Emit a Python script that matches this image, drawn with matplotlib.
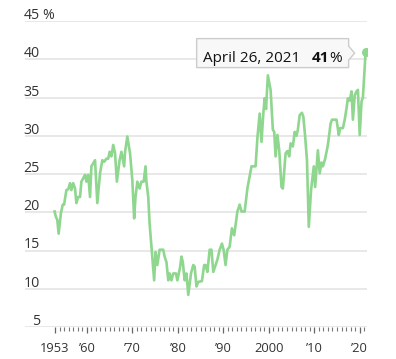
import matplotlib
matplotlib.use("Agg")
import matplotlib.pyplot as plt
from matplotlib import transforms
from matplotlib.patches import Polygon

plt.rcParams['font.family'] = ['Open Sans', 'DejaVu Sans']

years = [1952.9, 1953.2, 1953.5, 1953.8, 1954.3, 1954.7, 1955.0, 1955.5, 1955.9, 1956.3,
         1956.6, 1957.0, 1957.4, 1957.7, 1958.1, 1958.5, 1958.8, 1959.6, 1959.9, 1960.3,
         1960.7, 1961.0, 1961.8, 1962.3, 1962.9, 1963.4, 1963.8, 1964.3, 1964.7, 1965.0,
         1965.4, 1965.8, 1966.2, 1966.6, 1967.2, 1967.6, 1968.2, 1968.4, 1968.9, 1969.5,
         1970.0, 1970.4, 1970.7, 1971.1, 1971.6, 1972.0, 1972.5, 1972.9, 1973.1, 1973.5,
         1973.8, 1974.2, 1974.8, 1975.1, 1975.5, 1976.0, 1976.8, 1977.1, 1977.5, 1977.9,
         1978.2, 1978.6, 1979.0, 1979.6, 1979.9, 1980.5, 1980.8, 1981.1, 1981.5, 1981.9,
         1982.3, 1982.9, 1983.4, 1983.7, 1984.1, 1984.5, 1985.3, 1985.8, 1986.1, 1986.5,
         1987.0, 1987.4, 1987.8, 1988.3, 1988.7, 1989.2, 1989.7, 1990.1, 1990.5, 1990.9,
         1991.4, 1991.9, 1992.4, 1993.1, 1993.6, 1994.0, 1994.7, 1995.3, 1996.2, 1997.1,
         1997.5, 1998.0, 1998.4, 1998.8, 1999.1, 1999.4, 1999.8, 2000.4, 2000.9, 2001.2,
         2001.5, 2001.9, 2002.3, 2002.8, 2003.1, 2003.7, 2004.1, 2004.5, 2004.8, 2005.3,
         2005.7, 2006.1, 2006.4, 2006.8, 2007.3, 2007.6, 2008.0, 2008.4, 2008.8, 2009.3,
         2009.9, 2010.2, 2010.8, 2011.2, 2011.6, 2011.9, 2012.4, 2013.0, 2013.6, 2013.9,
         2014.9, 2015.4, 2015.7, 2016.3, 2016.7, 2017.1, 2017.4, 2017.8, 2018.2, 2018.5,
         2018.9, 2019.3, 2019.6, 2020.0, 2020.4, 2020.7, 2021.3]
values = [20.1, 19.4, 19.0, 17.2, 19.9, 21.0, 21.0, 22.9, 23.0, 23.8,
          22.9, 23.8, 23.1, 21.2, 22.0, 22.0, 24.0, 24.9, 24.0, 24.9,
          22.0, 26.0, 26.8, 21.2, 25.1, 26.8, 26.6, 27.0, 27.0, 27.9,
          27.3, 28.8, 27.7, 24.0, 26.8, 27.9, 26.0, 27.9, 29.9, 27.7,
          24.2, 19.2, 22.0, 24.0, 23.1, 24.0, 24.0, 26.0, 24.0, 22.0,
          18.5, 15.5, 11.1, 14.8, 13.1, 15.1, 15.1, 14.2, 13.5, 11.1,
          12.0, 11.1, 12.0, 12.0, 11.1, 12.8, 14.2, 13.5, 11.1, 12.0,
          9.2, 12.0, 13.1, 12.9, 10.3, 10.9, 11.0, 13.1, 13.1, 12.2,
          15.1, 15.1, 12.2, 13.1, 13.8, 15.1, 15.9, 15.0, 13.1, 15.1,
          15.5, 17.9, 17.0, 20.1, 21.0, 20.1, 20.1, 23.1, 26.0, 26.0,
          29.7, 32.9, 29.2, 32.9, 34.9, 33.5, 37.9, 36.0, 30.8, 30.5,
          27.3, 30.1, 28.1, 23.3, 23.1, 27.7, 28.0, 27.3, 29.0, 28.6,
          30.5, 30.0, 30.8, 32.7, 33.0, 32.5, 29.9, 26.8, 18.1, 22.9,
          26.0, 23.3, 28.1, 25.1, 26.5, 26.0, 27.0, 28.8, 31.6, 32.1,
          32.1, 30.1, 31.0, 31.0, 32.1, 33.6, 34.9, 34.6, 35.8, 32.1,
          35.3, 35.8, 36.0, 30.1, 34.5, 35.0, 41.0]

y_ticks = [5, 10, 15, 20, 25, 30, 35, 40, 45]
x_major = [1953, 1960, 1970, 1980, 1990, 2000, 2010, 2020]
x_labels = ['1953', '\u201960', '\u201970', '\u201980', '\u201990', '2000', '\u201910', '\u201920']
tooltip_date = 'April 26, 2021'
tooltip_value = '41'

W, H = 396, 359
fig = plt.figure(figsize=(W / 100, H / 100), dpi=100)
ax = fig.add_axes([25 / W, 1 - 327 / H, (367 - 25) / W, (327 - 21) / H])
ax.set_xlim(1946.4, 2021.6)
ax.set_ylim(5, 45)
for s in ax.spines.values():
    s.set_visible(False)

# gridlines
for v in y_ticks:
    ax.axhline(v, color='#e2e2e2', lw=1.1, zorder=0)

# y labels
ylab_tr = transforms.offset_copy(ax.get_yaxis_transform(), fig=fig, x=15, y=2, units='dots')
for v in y_ticks:
    ax.text(0, v, str(v), transform=ylab_tr, ha='right', va='baseline',
            fontsize=10.2, color='#333333')
pct_tr = transforms.offset_copy(ax.get_yaxis_transform(), fig=fig, x=17, y=2, units='dots')
ax.text(0, 45, '%', transform=pct_tr, ha='left', va='baseline', fontsize=10.2, color='#333333')

ax.set_yticks([])
minor = list(range(1953, 2022))
ax.set_xticks(x_major)
ax.set_xticklabels(x_labels)
ax.set_xticks(minor, minor=True)
ax.tick_params(axis='x', which='major', length=4.5, width=0.9, color='#666666',
               labelsize=9.3, labelcolor='#333333', pad=6)
ax.tick_params(axis='x', which='minor', length=3, width=0.8, color='#777777')

ax.plot(years, values, color='#8fd68f', lw=1.9, solid_joinstyle='round', zorder=3)
ax.plot([years[-1]], [values[-1]], 'o', color='#8fd68f', ms=5.5, zorder=4)

# tooltip anchored to last point
fig.canvas.draw()
px, py = ax.transData.transform((years[-1], values[-1]))
box_l, box_r = px - 169, px - 17
box_t, box_b = py + 13, py - 16
tip = px - 11
mid = (box_t + box_b) / 2
verts = [(box_l, box_b), (box_r, box_b), (box_r, mid - 7), (tip, mid), (box_r, mid + 7),
         (box_r, box_t), (box_l, box_t)]
poly = Polygon(verts, closed=True, transform=None, facecolor='#f8f8f8',
               edgecolor='#cccccc', lw=1.0, zorder=10)
fig.patches.append(poly)
fig.text((px - 163) / W, (py - 10) / H, tooltip_date, ha='left', va='baseline',
         fontsize=11, color='#111111', zorder=11)
fig.text((px - 24) / W, (py - 10) / H, '%', ha='right', va='baseline',
         fontsize=11, color='#111111', zorder=11)
fig.text((px - 36) / W, (py - 10) / H, tooltip_value, ha='right', va='baseline',
         fontsize=11, fontweight='bold', color='#111111', zorder=11)

fig.savefig('out.png', dpi=100)
